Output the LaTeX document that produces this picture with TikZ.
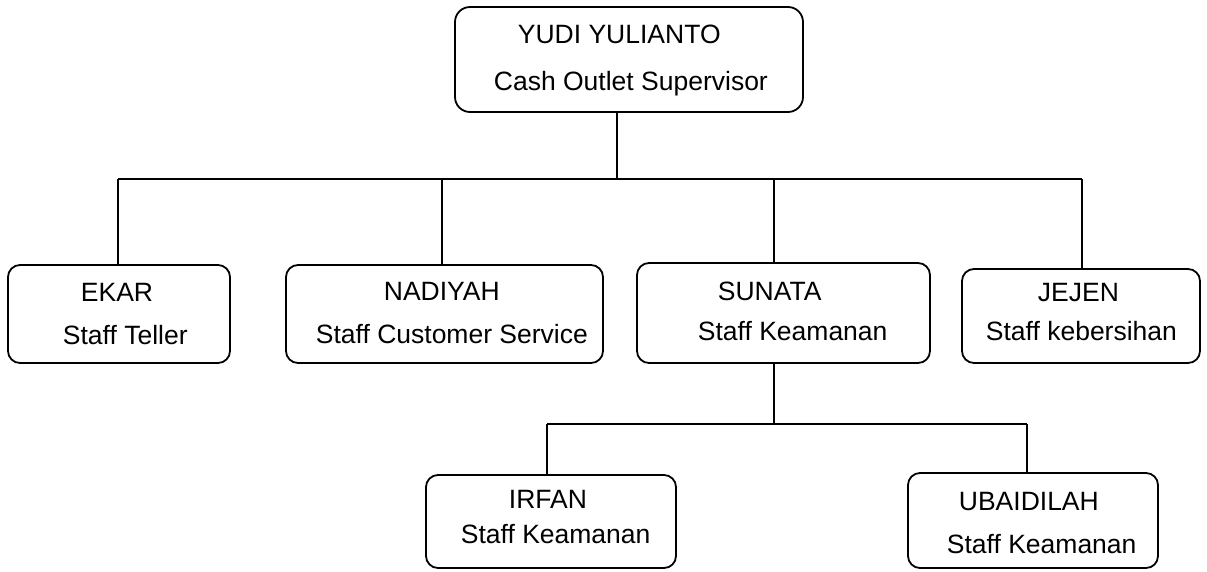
\documentclass[tikz,border=0pt]{standalone}
\usepackage{fontspec}
\setmainfont{Liberation Sans}
\begin{document}
\begin{tikzpicture}
		[x=1pt,y=-1pt,line width=1.8pt,
		mybox/.style={draw,rounded corners=12pt,inner sep=0pt},
		mytext/.style={anchor=base west,inner sep=0pt,font=\fontsize{26.5}{32}\selectfont}]
		\useasboundingbox (0,0) rectangle (1207,571);
		% boxes
		\node[mybox,rounded corners=15pt,minimum width=348pt,minimum height=105pt] (yudi) at (629,59.5) {};
		\node[mybox,minimum width=222pt,minimum height=98pt] (ekar) at (119,314) {};
		\node[mybox,minimum width=317pt,minimum height=98pt] (nadiyah) at (444.5,314) {};
		\node[mybox,minimum width=293pt,minimum height=100pt] (sunata) at (783.5,313) {};
		\node[mybox,minimum width=238pt,minimum height=94pt] (jejen) at (1081,316) {};
		\node[mybox,minimum width=250pt,minimum height=93pt] (irfan) at (551,521.5) {};
		\node[mybox,minimum width=250pt,minimum height=95pt] (ubaidilah) at (1033,520.5) {};
		% texts
		\node[mytext] (yudi1) at (517,43) {YUDI YULIANTO};
		\node[mytext] (yudi2) at (493,90) {Cash Outlet Supervisor};
		\node[mytext] (ekar1) at (80,301) {EKAR};
		\node[mytext] (ekar2) at (62,344) {Staff Teller};
		\node[mytext] (nadiyah1) at (383,300) {NADIYAH};
		\node[mytext] (nadiyah2) at (315,343) {Staff Customer Service};
		\node[mytext] (sunata1) at (717,300) {SUNATA};
		\node[mytext] (sunata2) at (697,340) {Staff Keamanan};
		\node[mytext] (jejen1) at (1037,301) {JEJEN};
		\node[mytext] (jejen2) at (985,340) {Staff kebersihan};
		\node[mytext] (irfan1) at (508,508) {IRFAN};
		\node[mytext] (irfan2) at (460,543) {Staff Keamanan};
		\node[mytext] (ubaidilah1) at (958,510) {UBAIDILAH};
		\node[mytext] (ubaidilah2) at (946,553) {Staff Keamanan};
		% lines
		\coordinate (top) at (617,179);
		\coordinate (bus1) at (118,179);
		\coordinate (bus2) at (442,179);
		\coordinate (bus3) at (774,179);
		\coordinate (bus4) at (1082,179);
		\coordinate (mid) at (774,424);
		\coordinate (sub1) at (547,424);
		\coordinate (sub2) at (1027,424);
		\draw (top |- yudi.south) -- (top);
		\draw (bus1) -- (bus4);
		\foreach \c/\n in {bus1/ekar,bus2/nadiyah,bus3/sunata,bus4/jejen}
		{
			\draw (\c) -- (\c |- \n.north);
		}
		\draw (mid |- sunata.south) -- (mid);
		\draw (sub1) -- (sub2);
		\foreach \c/\n in {sub1/irfan,sub2/ubaidilah}
		{
			\draw (\c) -- (\c |- \n.north);
		}
	\end{tikzpicture}
\end{document}
